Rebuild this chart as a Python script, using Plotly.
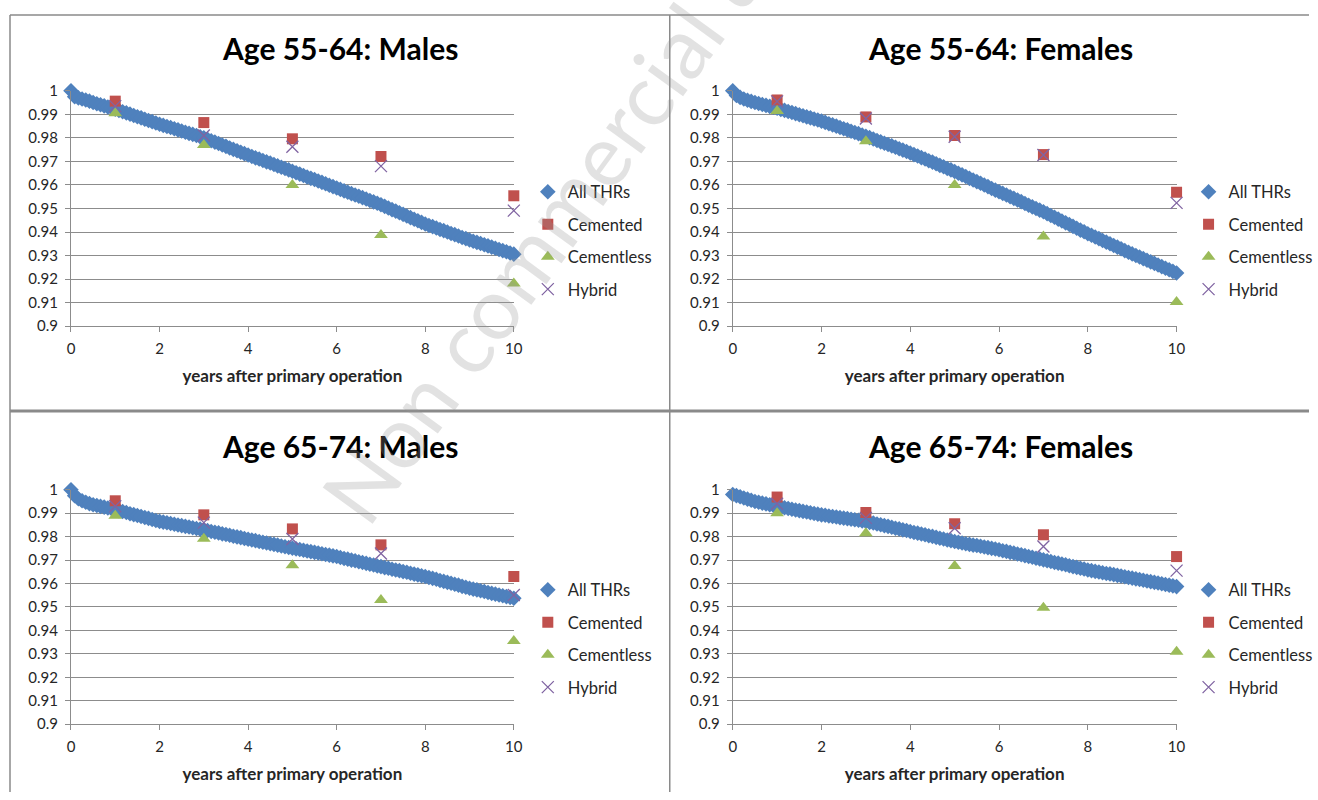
import plotly.graph_objects as go

W, H = 1318, 800

# ---------------- data ----------------
MONTHS = list(range(121))  # monthly time points, 0..120 months
YEARS_FU = [m / 12 for m in MONTHS]
POINT_YEARS = [1, 3, 5, 7, 10]

ALL_55_64_M = [
    1.0000, 0.9975, 0.9970, 0.9965, 0.9961, 0.9956, 0.9950, 0.9945, 0.9941, 0.9936, 0.9931, 0.9927, 0.9922,
    0.9917, 0.9911, 0.9906, 0.9901, 0.9895, 0.9890, 0.9885, 0.9879, 0.9874, 0.9869, 0.9863, 0.9858,
    0.9853, 0.9848, 0.9844, 0.9839, 0.9834, 0.9829, 0.9824, 0.9819, 0.9815, 0.9810, 0.9805, 0.9800,
    0.9794, 0.9788, 0.9782, 0.9776, 0.9770, 0.9764, 0.9757, 0.9751, 0.9745, 0.9739, 0.9733, 0.9727,
    0.9721, 0.9715, 0.9710, 0.9704, 0.9698, 0.9693, 0.9687, 0.9681, 0.9675, 0.9670, 0.9664, 0.9658,
    0.9652, 0.9646, 0.9640, 0.9634, 0.9628, 0.9623, 0.9617, 0.9611, 0.9605, 0.9599, 0.9593, 0.9587,
    0.9581, 0.9575, 0.9569, 0.9563, 0.9557, 0.9552, 0.9546, 0.9540, 0.9534, 0.9528, 0.9522, 0.9516,
    0.9509, 0.9502, 0.9495, 0.9489, 0.9482, 0.9475, 0.9468, 0.9461, 0.9454, 0.9448, 0.9441, 0.9434,
    0.9428, 0.9423, 0.9417, 0.9411, 0.9406, 0.9400, 0.9394, 0.9389, 0.9383, 0.9377, 0.9372, 0.9366,
    0.9361, 0.9356, 0.9351, 0.9346, 0.9341, 0.9336, 0.9331, 0.9326, 0.9321, 0.9316, 0.9311, 0.9306,
]
ALL_55_64_F = [
    1.0000, 0.9980, 0.9972, 0.9965, 0.9960, 0.9955, 0.9950, 0.9946, 0.9942, 0.9938, 0.9934, 0.9930, 0.9926,
    0.9921, 0.9917, 0.9912, 0.9908, 0.9903, 0.9898, 0.9894, 0.9889, 0.9885, 0.9880, 0.9876, 0.9871,
    0.9866, 0.9860, 0.9855, 0.9850, 0.9844, 0.9839, 0.9834, 0.9828, 0.9823, 0.9818, 0.9812, 0.9807,
    0.9801, 0.9795, 0.9789, 0.9783, 0.9777, 0.9772, 0.9766, 0.9760, 0.9754, 0.9748, 0.9742, 0.9736,
    0.9729, 0.9723, 0.9716, 0.9710, 0.9703, 0.9697, 0.9690, 0.9683, 0.9677, 0.9670, 0.9664, 0.9657,
    0.9650, 0.9643, 0.9636, 0.9628, 0.9621, 0.9614, 0.9607, 0.9600, 0.9593, 0.9585, 0.9578, 0.9571,
    0.9564, 0.9557, 0.9550, 0.9543, 0.9536, 0.9529, 0.9521, 0.9514, 0.9507, 0.9500, 0.9493, 0.9486,
    0.9478, 0.9470, 0.9463, 0.9455, 0.9447, 0.9439, 0.9432, 0.9424, 0.9416, 0.9408, 0.9401, 0.9393,
    0.9386, 0.9379, 0.9372, 0.9364, 0.9357, 0.9350, 0.9343, 0.9336, 0.9329, 0.9321, 0.9314, 0.9307,
    0.9300, 0.9294, 0.9287, 0.9280, 0.9273, 0.9267, 0.9260, 0.9253, 0.9246, 0.9240, 0.9233, 0.9226,
]
ALL_65_74_M = [
    1.0000, 0.9975, 0.9962, 0.9953, 0.9947, 0.9941, 0.9936, 0.9933, 0.9929, 0.9926, 0.9922, 0.9919, 0.9915,
    0.9911, 0.9907, 0.9903, 0.9898, 0.9894, 0.9890, 0.9886, 0.9882, 0.9878, 0.9873, 0.9869, 0.9865,
    0.9862, 0.9859, 0.9856, 0.9853, 0.9850, 0.9847, 0.9844, 0.9841, 0.9838, 0.9835, 0.9832, 0.9829,
    0.9826, 0.9822, 0.9819, 0.9816, 0.9812, 0.9809, 0.9806, 0.9802, 0.9799, 0.9796, 0.9792, 0.9789,
    0.9786, 0.9783, 0.9779, 0.9776, 0.9773, 0.9770, 0.9767, 0.9764, 0.9760, 0.9757, 0.9754, 0.9751,
    0.9748, 0.9745, 0.9742, 0.9739, 0.9736, 0.9733, 0.9730, 0.9727, 0.9724, 0.9721, 0.9718, 0.9715,
    0.9711, 0.9707, 0.9704, 0.9700, 0.9697, 0.9693, 0.9690, 0.9686, 0.9682, 0.9679, 0.9675, 0.9672,
    0.9668, 0.9665, 0.9661, 0.9658, 0.9655, 0.9651, 0.9648, 0.9644, 0.9640, 0.9637, 0.9633, 0.9630,
    0.9626, 0.9622, 0.9618, 0.9613, 0.9609, 0.9605, 0.9601, 0.9597, 0.9593, 0.9588, 0.9584, 0.9580,
    0.9576, 0.9573, 0.9569, 0.9566, 0.9562, 0.9558, 0.9555, 0.9551, 0.9548, 0.9544, 0.9541, 0.9537,
]
ALL_65_74_F = [
    0.9980, 0.9975, 0.9970, 0.9965, 0.9960, 0.9955, 0.9950, 0.9947, 0.9943, 0.9940, 0.9936, 0.9933, 0.9929,
    0.9926, 0.9923, 0.9920, 0.9917, 0.9914, 0.9911, 0.9908, 0.9905, 0.9902, 0.9899, 0.9896, 0.9893,
    0.9891, 0.9888, 0.9886, 0.9884, 0.9881, 0.9879, 0.9877, 0.9874, 0.9872, 0.9870, 0.9867, 0.9865,
    0.9861, 0.9858, 0.9854, 0.9851, 0.9847, 0.9844, 0.9840, 0.9836, 0.9833, 0.9829, 0.9826, 0.9822,
    0.9818, 0.9815, 0.9811, 0.9808, 0.9804, 0.9801, 0.9797, 0.9793, 0.9790, 0.9786, 0.9783, 0.9779,
    0.9776, 0.9773, 0.9770, 0.9767, 0.9764, 0.9762, 0.9759, 0.9756, 0.9753, 0.9750, 0.9747, 0.9744,
    0.9740, 0.9737, 0.9733, 0.9730, 0.9726, 0.9723, 0.9719, 0.9715, 0.9712, 0.9708, 0.9705, 0.9701,
    0.9697, 0.9694, 0.9690, 0.9687, 0.9683, 0.9680, 0.9676, 0.9672, 0.9669, 0.9665, 0.9662, 0.9658,
    0.9655, 0.9652, 0.9649, 0.9646, 0.9643, 0.9641, 0.9638, 0.9635, 0.9632, 0.9629, 0.9626, 0.9623,
    0.9620, 0.9617, 0.9614, 0.9611, 0.9608, 0.9605, 0.9602, 0.9599, 0.9596, 0.9593, 0.9590, 0.9587,
]

CEMENTED_55_64_M = [0.9956, 0.9865, 0.9796, 0.9721, 0.9554]
CEMENTLESS_55_64_M = [0.9905, 0.9770, 0.9600, 0.9387, 0.9181]
HYBRID_55_64_M = [0.9935, 0.9810, 0.9762, 0.9680, 0.9491]

CEMENTED_55_64_F = [0.9961, 0.9889, 0.9810, 0.9729, 0.9569]
CEMENTLESS_55_64_F = [0.9914, 0.9786, 0.9600, 0.9381, 0.9103]
HYBRID_55_64_F = [0.9955, 0.9882, 0.9805, 0.9727, 0.9524]

CEMENTED_65_74_M = [0.9953, 0.9893, 0.9833, 0.9765, 0.9630]
CEMENTLESS_65_74_M = [0.9889, 0.9791, 0.9678, 0.9530, 0.9355]
HYBRID_65_74_M = [0.9930, 0.9860, 0.9790, 0.9728, 0.9551]

CEMENTED_65_74_F = [0.9969, 0.9903, 0.9855, 0.9808, 0.9715]
CEMENTLESS_65_74_F = [0.9900, 0.9815, 0.9675, 0.9497, 0.9309]
HYBRID_65_74_F = [0.9940, 0.9880, 0.9836, 0.9758, 0.9655]

TITLES = ["Age 55-64: Males", "Age 55-64: Females", "Age 65-74: Males", "Age 65-74: Females"]
SERIES_NAMES = ["All THRs", "Cemented", "Cementless", "Hybrid"]
X_TITLE = "years after primary operation"
Y_TICKVALS = [0.90, 0.91, 0.92, 0.93, 0.94, 0.95, 0.96, 0.97, 0.98, 0.99, 1.00]
Y_TICKTEXT = ["0.9", "0.91", "0.92", "0.93", "0.94", "0.95", "0.96", "0.97", "0.98", "0.99", "1"]
X_TICKVALS = [0, 2, 4, 6, 8, 10]
WATERMARK = "Non commercial use"

PANELS = [
    (ALL_55_64_M, CEMENTED_55_64_M, CEMENTLESS_55_64_M, HYBRID_55_64_M),
    (ALL_55_64_F, CEMENTED_55_64_F, CEMENTLESS_55_64_F, HYBRID_55_64_F),
    (ALL_65_74_M, CEMENTED_65_74_M, CEMENTLESS_65_74_M, HYBRID_65_74_M),
    (ALL_65_74_F, CEMENTED_65_74_F, CEMENTLESS_65_74_F, HYBRID_65_74_F),
]

# ---------------- styling / layout ----------------
FONT = "Lato, Carlito, Calibri, 'Open Sans', sans-serif"
BLUE, RED, GREEN, PURPLE = "#4F81BD", "#C0504D", "#9BBB59", "#8064A2"
GRID = "#8C8C8C"
TXT = "#262626"

# positions below are given in target-picture pixels; map them to paper fractions
SX, OX = 0.9905, 4.0
SY, OY = 0.98, 7.0

def px_x(p):
    return ((p - OX) / SX) / W

def px_y(p):
    return 1 - ((p - OY) / SY) / H

# plot-area pixel boxes: (left, right, top, bottom)
BOXES = [
    (71, 514, 88, 324),
    (733, 1177, 88, 324),
    (71, 514, 488, 723),
    (733, 1177, 488, 723),
]
TITLE_POS = [(340, 45), (1001, 45), (340, 444), (1001, 444)]
LEGEND_POS = [(528, 172), (1189, 172), (528, 571), (1189, 571)]

fig = go.Figure()
layout = dict(
    width=W, height=H,
    margin=dict(l=0, r=0, t=0, b=0),
    paper_bgcolor="white", plot_bgcolor="white",
    font=dict(family=FONT, color=TXT, size=15),
    showlegend=True,
    annotations=[], shapes=[],
)

for i, (allv, cem, cless, hyb) in enumerate(PANELS):
    k = "" if i == 0 else str(i + 1)
    xa, ya = "x" + k, "y" + k
    lg = "legend" + k
    common = dict(mode="markers", xaxis=xa, yaxis=ya, legend=lg, cliponaxis=False, hoverinfo="skip")
    fig.add_trace(go.Scatter(x=YEARS_FU, y=allv, name=SERIES_NAMES[0], legendgroup=f"a{i}",
                             marker=dict(symbol="diamond", size=12, color=BLUE), **common))
    fig.add_trace(go.Scatter(x=POINT_YEARS, y=cem, name=SERIES_NAMES[1], legendgroup=f"b{i}",
                             marker=dict(symbol="square", size=11, color=RED), **common))
    fig.add_trace(go.Scatter(x=POINT_YEARS, y=cless, name=SERIES_NAMES[2], legendgroup=f"c{i}",
                             marker=dict(symbol="triangle-up", size=12, color=GREEN), **common))
    fig.add_trace(go.Scatter(x=POINT_YEARS, y=hyb, name=SERIES_NAMES[3], legendgroup=f"d{i}",
                             marker=dict(symbol="x-thin-open", size=12, color=PURPLE,
                                         line=dict(color=PURPLE, width=1.3)), **common))

    l, r, t, b = BOXES[i]
    layout["xaxis" + k] = dict(
        domain=[px_x(l), px_x(r)], range=[0, 10], anchor=ya,
        tickvals=X_TICKVALS, ticks="outside", ticklen=5, tickcolor=GRID,
        showline=True, linecolor=GRID, linewidth=1, showgrid=False, zeroline=False,
        tickfont=dict(size=15, color=TXT), ticklabelstandoff=4,
        title=dict(text=f"<b>{X_TITLE}</b>", font=dict(size=17, color=TXT), standoff=13),
    )
    layout["yaxis" + k] = dict(
        domain=[px_y(b), px_y(t)], range=[0.9, 1.0], anchor=xa,
        tickvals=Y_TICKVALS, ticktext=Y_TICKTEXT, ticks="outside", ticklen=5, tickcolor=GRID,
        showline=True, linecolor=GRID, linewidth=1, showgrid=True, gridcolor=GRID, gridwidth=1,
        zeroline=False, tickfont=dict(size=15, color=TXT), ticklabelstandoff=4,
    )
    lx, ly = LEGEND_POS[i]
    layout[lg] = dict(
        x=px_x(lx), y=px_y(ly), xanchor="left", yanchor="top",
        bgcolor="rgba(0,0,0,0)", font=dict(size=16.5, color=TXT),
        traceorder="grouped", tracegroupgap=8, itemwidth=30,
    )
    tx, ty = TITLE_POS[i]
    layout["annotations"].append(dict(
        text=f"<b>{TITLES[i]}</b>", x=px_x(tx), y=px_y(ty), xref="paper", yref="paper",
        xanchor="center", yanchor="middle", showarrow=False,
        font=dict(size=30, color="#000000", family=FONT),
    ))

# panel frame lines
frame = dict(type="line", xref="paper", yref="paper", line=dict(color="#8A8A8A", width=1.5))
layout["shapes"] += [
    dict(x0=px_x(10), x1=1, y0=px_y(12), y1=px_y(12), **frame),
    dict(x0=px_x(10), x1=px_x(10), y0=px_y(12), y1=0, **frame),
    dict(x0=px_x(670), x1=px_x(670), y0=px_y(12), y1=0, **frame),
    dict(x0=px_x(10), x1=1, y0=px_y(409), y1=px_y(409), type="line", xref="paper", yref="paper",
         line=dict(color="#8A8A8A", width=3)),
]

# faint watermark
layout["annotations"].append(dict(
    text=WATERMARK, x=px_x(566), y=px_y(198), xref="paper", yref="paper",
    xanchor="center", yanchor="middle", showarrow=False, textangle=-54,
    font=dict(size=86, color="rgba(150,150,150,0.28)", family=FONT),
))

fig.update_layout(**layout)
fig.write_html(
    "out.html",
    config={"displayModeBar": False},
    post_script="document.body.style.margin='0';document.body.style.overflow='hidden';",
)
